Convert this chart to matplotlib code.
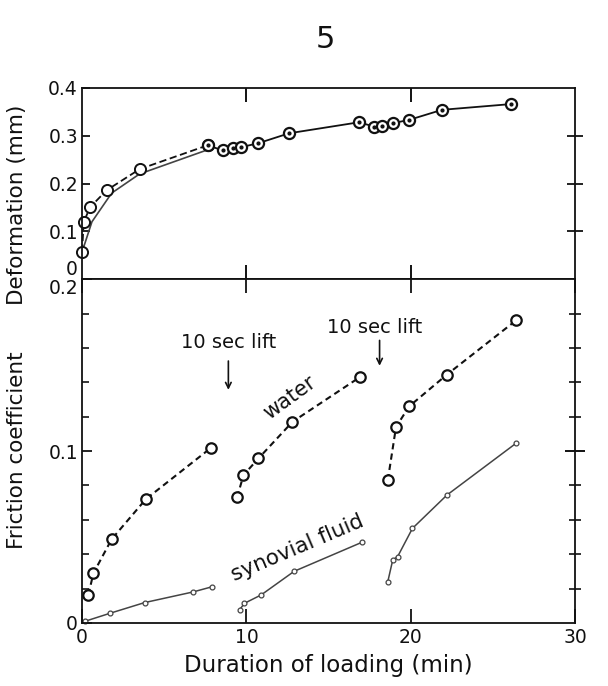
import matplotlib
matplotlib.use("Agg")
import matplotlib.pyplot as plt

# ---------------- data ----------------
# upper panel: deformation (mm)
def_dash_x = [0.0, 0.1, 0.5, 1.5, 3.5, 7.65]
def_dash_y = [0.057, 0.12, 0.151, 0.186, 0.23, 0.28]
def_solid_x = [0.0, 0.6, 1.8, 3.5, 7.6]
def_solid_y = [0.057, 0.12, 0.18, 0.22, 0.27]
def_late_x = [7.65, 8.56, 9.17, 9.68, 10.7, 12.6, 16.85, 17.76, 18.26, 18.9, 19.9, 21.9, 26.1]
def_late_y = [0.28, 0.269, 0.274, 0.276, 0.284, 0.305, 0.328, 0.319, 0.320, 0.326, 0.333, 0.354, 0.366]

# lower panel: friction coefficient, water (three loading periods)
water_x = [[0.38, 0.69, 1.8, 3.88, 7.86],
           [9.43, 9.82, 10.73, 12.8, 16.9],
           [18.6, 19.1, 19.9, 22.2, 26.4]]
water_y = [[0.0163, 0.0289, 0.0487, 0.072, 0.102],
           [0.073, 0.086, 0.0957, 0.117, 0.143],
           [0.083, 0.114, 0.126, 0.1445, 0.176]]
# synovial fluid
syn_x = [[0.2, 1.7, 3.8, 6.75, 7.9],
         [9.58, 9.88, 10.9, 12.9, 17.05],
         [18.6, 18.9, 19.2, 20.1, 22.2, 26.4]]
syn_y = [[0.001, 0.0056, 0.0118, 0.018, 0.021],
         [0.0076, 0.0114, 0.0163, 0.030, 0.047],
         [0.024, 0.0366, 0.0386, 0.055, 0.0744, 0.1045]]

x_ticks = [0, 10, 20, 30]
x_tick_labels = ["0", "10", "20", "30"]
def_ticks = [0, 0.1, 0.2, 0.3, 0.4]
def_tick_labels = ["0", "0.1", "0.2", "0.3", "0.4"]
fric_ticks = [0, 0.1, 0.2]
fric_tick_labels = ["0", "0.1", "0.2"]

# ---------------- figure ----------------
plt.rcParams['font.family'] = ['DejaVu Sans']
fig = plt.figure(figsize=(6.08, 6.86), dpi=100)
L, R = 0.135, 0.946
ax1 = fig.add_axes([L, 0.593, R - L, 0.872 - 0.593])
ax2 = fig.add_axes([L, 0.092, R - L, 0.593 - 0.092])

ink = "#111111"
gray = "#444444"

# upper
ax1.plot(def_solid_x, def_solid_y, '-', color=gray, lw=1.2, clip_on=False)
ax1.plot(def_dash_x, def_dash_y, '--', color=ink, lw=1.3, dashes=(4, 2),
         marker='o', ms=8, mfc='white', mec=ink, mew=1.4, clip_on=False)
ax1.plot(def_late_x, def_late_y, '-', color=ink, lw=1.3,
         marker='o', ms=8, mfc='white', mec=ink, mew=1.6)
ax1.plot(def_late_x, def_late_y, ls='none', marker='o', ms=2, color=ink)

# lower
for xs, ys in zip(water_x, water_y):
    ax2.plot(xs, ys, '--', color=ink, lw=1.5, dashes=(3, 2),
             marker='o', ms=7.5, mfc='white', mec=ink, mew=1.6, clip_on=False)
for xs, ys in zip(syn_x, syn_y):
    ax2.plot(xs, ys, '-', color=gray, lw=1.1,
             marker='o', ms=3.5, mfc='white', mec=gray, mew=0.9, clip_on=False)

for ax in (ax1, ax2):
    ax.set_xlim(0, 30)
    for s in ax.spines.values():
        s.set_linewidth(1.3)
        s.set_color(ink)

ax1.set_ylim(0, 0.4)
ax2.set_ylim(0, 0.2)

# ticks upper
ax1.set_yticks(def_ticks)
ax1.set_yticklabels(def_tick_labels)
ax1.set_xticks([10, 20])
ax1.tick_params(axis='x', which='both', direction='in', length=10, width=1.3,
                top=True, bottom=True, labelbottom=False)
ax1.tick_params(axis='y', direction='in', length=6, width=1.3,
                left=True, right=False, labelsize=13.5, colors=ink, pad=3)
ax1.get_yticklabels()[0].set_verticalalignment('bottom')

# right-side ticks that cross the frame (upper)
ax1r = ax1.twinx()
ax1r.set_ylim(ax1.get_ylim())
ax1r.set_yticks([0.1, 0.2, 0.3])
ax1r.tick_params(axis='y', direction='inout', length=12, width=1.3,
                 labelright=False, colors=ink)
for s in ax1r.spines.values():
    s.set_visible(False)

# ticks lower
ax2.set_yticks(fric_ticks)
ax2.set_yticklabels(fric_tick_labels)
ax2.set_yticks([i * 0.02 for i in range(1, 10)], minor=True)
ax2.set_xticks(x_ticks)
ax2.set_xticklabels(x_tick_labels)
ax2.tick_params(axis='x', direction='in', length=10, width=1.3,
                top=True, bottom=True, labelsize=13.5, pad=4, colors=ink)
ax2.tick_params(axis='y', which='major', direction='in', length=7, width=1.3,
                left=True, right=False, labelsize=13.5, colors=ink, pad=3)
ax2.tick_params(axis='y', which='minor', direction='in', length=5, width=1.1,
                left=True, right=False)
ax2.get_yticklabels()[-1].set_verticalalignment('top')

# right-side ticks that cross the frame (lower)
ax2r = ax2.twinx()
ax2r.set_ylim(ax2.get_ylim())
ax2r.set_yticks([0.1])
ax2r.set_yticks([i * 0.02 for i in range(1, 10) if i != 5], minor=True)
ax2r.tick_params(axis='y', which='major', direction='inout', length=14, width=1.4,
                 labelright=False, colors=ink)
ax2r.tick_params(axis='y', which='minor', direction='inout', length=9, width=1.2,
                 labelright=False, colors=ink)
for s in ax2r.spines.values():
    s.set_visible(False)

ax2.set_xlabel("Duration of loading (min)", fontsize=16.5, labelpad=5, color=ink)

fig.text(0.028, 1 - 205 / 686, "Deformation (mm)", rotation=90, fontsize=15.5,
         ha='center', va='center', color=ink)
fig.text(0.028, 1 - 450 / 686, "Friction coefficient", rotation=90, fontsize=15.5,
         ha='center', va='center', color=ink)

# page number
fig.text(0.535, 0.942, "5", fontsize=22, ha='center', va='center', color=ink)

# annotations
ax2.annotate("", xy=(8.9, 0.134), xytext=(8.9, 0.154),
             arrowprops=dict(arrowstyle='->', color=ink, lw=1.2))
ax2.text(8.9, 0.163, "10 sec lift", fontsize=14, ha='center', va='center', color=ink)
ax2.annotate("", xy=(18.1, 0.148), xytext=(18.1, 0.166),
             arrowprops=dict(arrowstyle='->', color=ink, lw=1.2))
ax2.text(17.8, 0.172, "10 sec lift", fontsize=14, ha='center', va='center', color=ink)
ax2.text(12.6, 0.131, "water", fontsize=15, rotation=36, ha='center', va='center', color=ink)
ax2.text(13.1, 0.0435, "synovial fluid", fontsize=15.5, rotation=23, ha='center', va='center', color=ink)

fig.savefig("out.png", dpi=100, facecolor='white')
